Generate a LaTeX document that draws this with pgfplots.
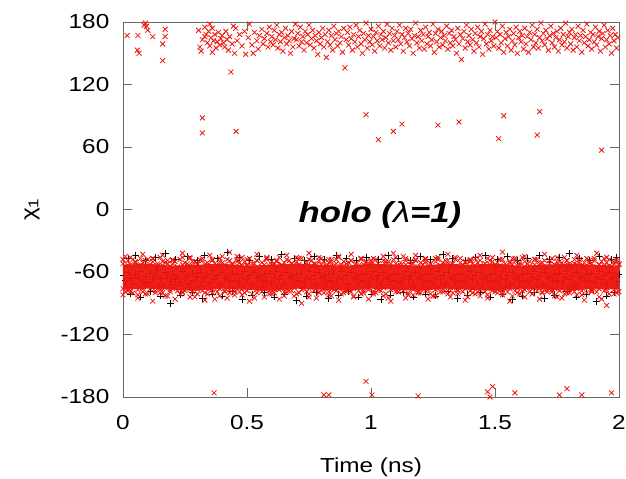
\documentclass[border=0pt]{standalone}
\usepackage{fontspec}
\setmainfont{Liberation Sans}[FakeStretch=1.2]
\usepackage{pgfplots}
\pgfplotsset{compat=1.18}
\usepackage{pgfplotstable}
\definecolor{corered}{RGB}{238,22,14}
\definecolor{axgray}{RGB}{105,105,105}

% red fringe of the chi1 ~ -64 band (ru, rl, rx) and black points inside it (bm)
\pgfplotstableread{
t ru rl rx bm
0.00 -52 -76 -48 -63
0.01 -55 -73 -79 -68
0.02 -49 -78 -54 -60
0.03 -53 -75 -46 -66
0.04 -56 -80 -74 -71
0.05 -50 -72 -51 -62
0.06 -54 -77 -82 -65
0.07 -47 -74 -53 -59
0.08 -51 -79 -76 -69
0.09 -55 -73 -49 -64
0.10 -48 -81 -55 -70
0.11 -53 -76 -72 -61
0.12 -50 -74 -47 -67
0.13 -56 -78 -80 -63
0.14 -52 -72 -54 -58
0.15 -46 -77 -75 -66
0.16 -54 -80 -50 -72
0.17 -51 -75 -83 -60
0.18 -49 -73 -52 -65
0.19 -55 -79 -77 -69
0.20 -52 -76 -48 -62
0.21 -50 -74 -73 -67
0.22 -56 -78 -55 -64
0.23 -48 -72 -81 -70
0.24 -53 -80 -46 -59
0.25 -51 -75 -78 -66
0.26 -55 -73 -52 -63
0.27 -47 -77 -74 -71
0.28 -54 -79 -50 -61
0.29 -50 -74 -84 -68
0.30 -52 -76 -53 -64
0.31 -56 -72 -75 -60
0.32 -49 -78 -47 -69
0.33 -53 -75 -80 -65
0.34 -51 -81 -54 -62
0.35 -55 -73 -76 -70
0.36 -48 -77 -49 -58
0.37 -52 -74 -86 -67
0.38 -54 -79 -55 -63
0.39 -50 -76 -73 -71
0.40 -45 -72 -51 -60
0.41 -53 -78 -79 -66
0.42 -56 -75 -48 -64
0.43 -49 -80 -77 -69
0.44 -52 -73 -53 -61
0.45 -55 -77 -82 -68
0.46 -48 -74 -50 -62
0.47 -51 -79 -75 -70
0.48 -54 -76 -46 -65
0.49 -50 -72 -80 -59
0.50 -53 -78 -54 -67
0.51 -47 -75 -74 -63
0.52 -55 -81 -52 -71
0.53 -52 -73 -85 -60
0.54 -49 -77 -49 -66
0.55 -56 -74 -76 -64
0.56 -51 -79 -55 -69
0.57 -53 -76 -73 -62
0.58 -48 -72 -47 -68
0.59 -54 -78 -81 -61
0.60 -50 -75 -53 -70
0.61 -52 -80 -77 -65
0.62 -55 -73 -50 -59
0.63 -46 -77 -75 -67
0.64 -53 -74 -54 -63
0.65 -51 -79 -83 -71
0.66 -56 -76 -48 -60
0.67 -49 -72 -78 -66
0.68 -52 -78 -52 -64
0.69 -54 -75 -74 -69
0.70 -50 -81 -46 -62
0.71 -53 -73 -80 -68
0.72 -47 -77 -55 -61
0.73 -55 -74 -76 -70
0.74 -51 -79 -51 -65
0.75 -48 -76 -84 -59
0.76 -54 -72 -49 -67
0.77 -52 -78 -73 -63
0.78 -56 -75 -53 -71
0.79 -49 -80 -79 -60
0.80 -53 -73 -47 -66
0.81 -50 -77 -75 -64
0.82 -55 -74 -54 -69
0.83 -51 -79 -82 -62
0.84 -48 -76 -50 -68
0.85 -54 -72 -77 -61
0.86 -52 -78 -48 -70
0.87 -46 -75 -74 -65
0.88 -53 -81 -55 -59
0.89 -50 -73 -80 -67
0.90 -55 -77 -52 -63
0.91 -51 -74 -76 -71
0.92 -49 -79 -49 -60
0.93 -56 -76 -83 -66
0.94 -52 -72 -54 -64
0.95 -54 -78 -73 -69
0.96 -48 -75 -47 -62
0.97 -53 -80 -78 -68
0.98 -50 -73 -51 -61
0.99 -55 -77 -75 -70
1.00 -51 -74 -53 -65
1.01 -47 -79 -81 -59
1.02 -54 -76 -48 -67
1.03 -52 -72 -77 -63
1.04 -56 -78 -55 -71
1.05 -49 -75 -74 -60
1.06 -53 -81 -50 -66
1.07 -50 -73 -85 -64
1.08 -55 -77 -52 -69
1.09 -48 -74 -76 -62
1.10 -52 -79 -46 -68
1.11 -54 -76 -79 -61
1.12 -51 -72 -54 -70
1.13 -45 -78 -73 -65
1.14 -53 -75 -49 -59
1.15 -56 -80 -82 -67
1.16 -50 -73 -53 -63
1.17 -52 -77 -75 -71
1.18 -49 -74 -48 -60
1.19 -55 -79 -80 -66
1.20 -51 -76 -55 -64
1.21 -53 -72 -74 -69
1.22 -47 -78 -50 -62
1.23 -54 -75 -77 -68
1.24 -52 -81 -52 -61
1.25 -56 -73 -83 -70
1.26 -50 -77 -47 -65
1.27 -48 -74 -76 -59
1.28 -55 -79 -54 -67
1.29 -51 -76 -73 -63
1.30 -53 -72 -49 -71
1.31 -49 -78 -81 -60
1.32 -54 -75 -53 -66
1.33 -52 -80 -75 -64
1.34 -46 -73 -48 -69
1.35 -55 -77 -78 -62
1.36 -51 -74 -55 -68
1.37 -53 -79 -74 -61
1.38 -50 -76 -51 -70
1.39 -56 -72 -84 -65
1.40 -48 -78 -50 -59
1.41 -52 -75 -76 -67
1.42 -54 -81 -47 -63
1.43 -51 -73 -79 -71
1.44 -49 -77 -54 -60
1.45 -55 -74 -73 -66
1.46 -52 -79 -52 -64
1.47 -47 -76 -82 -69
1.48 -53 -72 -49 -62
1.49 -50 -78 -75 -68
1.50 -56 -75 -53 -61
1.51 -51 -80 -77 -70
1.52 -54 -73 -48 -65
1.53 -48 -77 -80 -59
1.54 -52 -74 -55 -67
1.55 -55 -79 -74 -63
1.56 -50 -76 -51 -71
1.57 -53 -72 -83 -60
1.58 -49 -78 -47 -66
1.59 -54 -75 -76 -64
1.60 -51 -81 -53 -69
1.61 -46 -73 -78 -62
1.62 -55 -77 -50 -68
1.63 -52 -74 -75 -61
1.64 -50 -79 -54 -70
1.65 -56 -76 -81 -65
1.66 -53 -72 -48 -59
1.67 -48 -78 -74 -67
1.68 -54 -75 -52 -63
1.69 -51 -80 -79 -71
1.70 -49 -73 -55 -60
1.71 -55 -77 -73 -66
1.72 -52 -74 -49 -64
1.73 -47 -79 -77 -69
1.74 -53 -76 -53 -62
1.75 -50 -72 -84 -68
1.76 -56 -78 -50 -61
1.77 -51 -75 -75 -70
1.78 -54 -81 -46 -65
1.79 -49 -73 -80 -59
1.80 -52 -77 -54 -67
1.81 -55 -74 -76 -63
1.82 -48 -79 -52 -71
1.83 -53 -76 -73 -60
1.84 -50 -72 -48 -66
1.85 -54 -78 -82 -64
1.86 -51 -75 -55 -69
1.87 -56 -80 -74 -62
1.88 -49 -73 -51 -68
1.89 -52 -77 -78 -61
1.90 -47 -74 -49 -70
1.91 -55 -79 -75 -65
1.92 -53 -76 -53 -59
1.93 -50 -72 -86 -67
1.94 -54 -78 -47 -63
1.95 -51 -75 -77 -71
1.96 -48 -81 -54 -60
1.97 -55 -73 -73 -66
1.98 -52 -77 -50 -64
1.99 -50 -74 -80 -69
2.00 -53 -79 -52 -62
}\bandtab

% outer red points of the band
\pgfplotstableread{
t y
0.01 -45
0.04 -48
0.08 -43
0.12 -47
0.16 -44
0.20 -49
0.24 -42
0.27 -46
0.31 -48
0.35 -44
0.39 -47
0.43 -41
0.46 -45
0.50 -48
0.54 -43
0.58 -46
0.62 -49
0.66 -44
0.71 -47
0.75 -42
0.79 -46
0.83 -48
0.87 -45
0.92 -43
0.96 -47
1.00 -49
1.05 -45
1.09 -42
1.14 -47
1.18 -44
1.22 -48
1.27 -46
1.31 -43
1.36 -47
1.40 -49
1.44 -44
1.49 -46
1.53 -41
1.57 -47
1.62 -45
1.66 -48
1.70 -43
1.75 -46
1.79 -49
1.83 -44
1.87 -47
1.91 -42
1.95 -46
1.99 -48
0.00 -82
0.03 -79
0.06 -85
0.09 -81
0.12 -88
0.15 -80
0.18 -83
0.21 -86
0.24 -79
0.27 -84
0.30 -81
0.33 -87
0.36 -80
0.39 -83
0.42 -85
0.45 -79
0.48 -82
0.51 -88
0.54 -80
0.57 -84
0.60 -81
0.63 -86
0.66 -79
0.69 -83
0.72 -90
0.75 -81
0.78 -85
0.81 -80
0.84 -83
0.87 -87
0.90 -79
0.93 -84
0.96 -81
0.99 -86
1.02 -80
1.05 -83
1.08 -88
1.11 -79
1.14 -85
1.17 -82
1.20 -80
1.23 -86
1.26 -83
1.29 -79
1.32 -84
1.35 -81
1.38 -87
1.41 -80
1.44 -83
1.47 -85
1.50 -79
1.53 -82
1.56 -88
1.59 -80
1.62 -84
1.65 -81
1.68 -86
1.71 -79
1.74 -83
1.77 -85
1.80 -80
1.83 -82
1.86 -87
1.89 -79
1.92 -84
1.95 -92
1.98 -81
}\redfr

% black points at the edges of the band
\pgfplotstableread{
t y
0.02 -47
0.05 -44
0.09 -49
0.13 -46
0.17 -42
0.21 -48
0.26 -45
0.30 -49
0.33 -44
0.38 -47
0.42 -41
0.47 -46
0.51 -49
0.55 -45
0.60 -48
0.64 -43
0.69 -47
0.73 -49
0.77 -45
0.81 -48
0.86 -44
0.90 -47
0.94 -49
0.98 -46
1.03 -48
1.07 -44
1.11 -47
1.16 -49
1.20 -45
1.24 -48
1.29 -43
1.33 -47
1.38 -49
1.42 -46
1.46 -44
1.51 -48
1.55 -45
1.59 -49
1.63 -47
1.68 -44
1.72 -48
1.76 -46
1.80 -42
1.84 -47
1.88 -49
1.92 -45
1.97 -48
1.99 -46
0.03 -81
0.07 -84
0.11 -79
0.15 -83
0.19 -90
0.23 -82
0.28 -80
0.32 -85
0.36 -81
0.40 -83
0.44 -79
0.48 -86
0.52 -82
0.57 -80
0.61 -84
0.65 -81
0.70 -87
0.74 -83
0.78 -80
0.83 -85
0.87 -82
0.91 -79
0.95 -84
1.00 -81
1.04 -86
1.08 -82
1.13 -80
1.17 -84
1.22 -81
1.26 -83
1.31 -79
1.35 -85
1.39 -82
1.44 -80
1.48 -84
1.53 -81
1.57 -86
1.61 -83
1.66 -80
1.70 -85
1.74 -82
1.79 -79
1.83 -84
1.87 -81
1.91 -88
1.95 -83
1.98 -80
}\blkedge

\pgfplotstableread{
t y
0.017 167
0.060 167
0.058 153
0.065 150
0.085 177
0.095 176
0.100 172
0.120 166
0.160 159
0.170 173
0.170 166
0.160 143
0.090 179
0.305 172
0.310 156
0.315 152
0.320 163
0.330 175
0.335 168
0.340 160
0.345 171
0.350 157
0.355 165
0.360 174
0.365 162
0.370 168
0.375 155
0.380 161
0.385 170
0.390 158
0.395 164
0.360 151
0.330 166
0.350 178
0.400 167
0.405 160
0.410 156
0.415 171
0.420 163
0.425 153
0.430 166
0.440 159
0.450 150
0.455 174
0.460 162
0.470 168
0.480 157
0.490 171
0.495 149
0.435 132
0.445 176
0.505 165
0.510 178
0.520 158
0.530 170
0.540 162
0.545 154
0.550 167
0.560 173
0.565 159
0.570 164
0.580 169
0.585 156
0.590 175
0.595 161
0.525 150
0.600 166
0.605 158
0.610 172
0.615 163
0.620 177
0.625 155
0.630 168
0.635 161
0.640 170
0.645 152
0.650 165
0.655 174
0.660 159
0.665 167
0.670 162
0.680 171
0.685 156
0.690 164
0.695 178
0.675 150
0.700 163
0.705 169
0.710 157
0.715 175
0.720 161
0.725 166
0.730 153
0.735 171
0.740 160
0.745 168
0.750 177
0.755 158
0.760 164
0.765 172
0.770 155
0.775 167
0.780 162
0.785 149
0.790 170
0.795 159
0.800 165
0.805 174
0.810 156
0.815 168
0.820 146
0.825 161
0.830 172
0.835 158
0.840 167
0.845 153
0.850 176
0.855 163
0.860 169
0.865 157
0.870 171
0.875 160
0.880 166
0.885 151
0.890 174
0.895 136
0.900 163
0.905 170
0.910 158
0.915 175
0.920 164
0.925 153
0.930 168
0.935 161
0.940 177
0.945 156
0.950 166
0.955 172
0.960 159
0.965 150
0.970 169
0.975 163
0.980 179
0.985 155
0.990 167
0.995 161
1.000 173
1.005 158
1.010 166
1.015 152
1.020 170
1.025 162
1.030 176
1.035 157
1.040 168
1.045 163
1.050 171
1.055 155
1.060 165
1.065 178
1.070 160
1.075 169
1.080 153
1.085 174
1.090 162
1.095 167
1.100 156
1.105 171
1.110 163
1.115 177
1.120 159
1.125 168
1.130 152
1.135 165
1.140 174
1.145 161
1.150 169
1.155 157
1.160 173
1.165 164
1.170 150
1.175 167
1.180 179
1.185 160
1.190 166
1.195 155
1.200 172
1.205 162
1.210 168
1.215 154
1.220 175
1.225 159
1.230 166
1.235 170
1.240 157
1.245 163
1.250 178
1.255 151
1.260 169
1.265 161
1.270 173
1.275 156
1.280 165
1.285 171
1.290 158
1.295 167
1.300 162
1.305 176
1.310 154
1.315 169
1.320 160
1.325 172
1.330 157
1.335 166
1.340 163
1.345 150
1.350 174
1.355 159
1.360 168
1.365 144
1.370 164
1.375 171
1.380 155
1.385 177
1.390 161
1.395 167
1.400 158
1.405 173
1.410 163
1.415 152
1.420 169
1.425 160
1.430 175
1.435 156
1.440 166
1.445 171
1.450 149
1.455 164
1.460 178
1.465 159
1.470 168
1.475 154
1.480 172
1.485 162
1.490 166
1.495 157
1.500 180
1.505 165
1.510 171
1.515 155
1.520 168
1.525 160
1.530 176
1.535 151
1.540 164
1.545 170
1.550 157
1.555 166
1.560 173
1.565 153
1.570 162
1.575 169
1.580 158
1.585 175
1.590 150
1.595 165
1.600 171
1.605 161
1.610 167
1.615 154
1.620 174
1.625 159
1.630 166
1.635 151
1.640 170
1.645 163
1.650 177
1.655 156
1.660 168
1.665 160
1.670 173
1.675 155
1.680 165
1.685 179
1.690 162
1.695 169
1.700 158
1.705 172
1.710 164
1.715 153
1.720 167
1.725 176
1.730 160
1.735 169
1.740 156
1.745 165
1.750 171
1.755 152
1.760 163
1.765 174
1.770 158
1.775 168
1.780 161
1.785 179
1.790 155
1.795 166
1.800 170
1.805 159
1.810 173
1.815 153
1.820 165
1.825 168
1.830 156
1.835 176
1.840 162
1.845 167
1.850 151
1.855 172
1.860 160
1.865 166
1.870 178
1.875 157
1.880 163
1.885 170
1.890 154
1.895 168
1.900 161
1.905 175
1.910 158
1.915 166
1.920 171
1.925 152
1.930 164
1.935 169
1.940 177
1.945 156
1.950 163
1.955 172
1.960 159
1.965 167
1.970 150
1.975 174
1.980 162
1.985 168
1.990 155
1.995 165
}\topband

\pgfplotstableread{
t y
0.320 88
0.320 73.5
0.456 75
0.980 91
1.030 67
1.090 75
1.125 82
1.270 81
1.355 84
1.515 68
1.535 90
1.670 71.5
1.680 94
1.930 57
0.367 -176
0.810 -178
0.830 -178
0.980 -165
1.004 -178
1.190 -179
1.470 -175
1.490 -170
1.480 -180
1.580 -176
1.760 -178
1.790 -172
1.850 -178
1.970 -176
}\outl

\begin{document}
\begin{tikzpicture}
\begin{axis}[
  name=ax,
  scale only axis,
  width=372pt, height=281.25pt,
  xmin=0, xmax=2, ymin=-180, ymax=180,
  xtick={0,0.5,1,1.5,2},
  ytick={-180,-120,-60,0,60,120,180},
  tick align=inside,
  major tick length=7pt,
  axis line style={axgray, line width=0.7pt},
  tick style={axgray, line width=0.7pt},
  clip=false,
  clip marker paths=true,
  /pgf/number format/assume math mode=true,
  tick label style={font=\fontsize{15.2}{18}\selectfont},
  xticklabel style={yshift=-10.5pt},
  yticklabel style={xshift=-6.75pt},
  xlabel={Time (ns)},
  ylabel={χ\textsubscript{1}},
  every axis x label/.style={at={(axis description cs:0.5,-0.187)},anchor=center,font=\fontsize{15.2}{18}\selectfont},
  every axis y label/.style={at={(axis description cs:-0.1835,0.5)},rotate=90,anchor=center,font=\fontsize{15.2}{18}\selectfont},
  redx/.style={only marks, mark=x, mark size=2.6pt, corered, mark options={line width=0.6pt}},
  blk/.style={only marks, mark=+, mark size=2.6pt, black, mark options={line width=0.55pt}},
]
% black + series (plotted first)
\addplot[blk] table[x=t,y=y]{\blkedge};
\addplot[blk] table[x=t,y=bm]{\bandtab};
% dense red core of the band
\addplot[fill=corered, fill opacity=0.95, draw=none] coordinates {
(0,-53) (0.1,-52) (0.2,-54) (0.3,-53) (0.4,-52) (0.5,-54) (0.6,-53) (0.7,-52) (0.8,-53) (0.9,-54) (1.0,-52)
(1.1,-53) (1.2,-54) (1.3,-52) (1.4,-53) (1.5,-52) (1.6,-54) (1.7,-53) (1.8,-52) (1.9,-53) (2.0,-54)
(2.0,-77) (1.9,-76) (1.8,-78) (1.7,-77) (1.6,-76) (1.5,-78) (1.4,-77) (1.3,-76) (1.2,-78) (1.1,-77) (1.0,-76)
(0.9,-78) (0.8,-77) (0.7,-76) (0.6,-78) (0.5,-77) (0.4,-76) (0.3,-78) (0.2,-77) (0.1,-76) (0,-77)} -- cycle;
% red x series
\addplot[redx] table[x=t,y=ru]{\bandtab};
\addplot[redx] table[x=t,y=rl]{\bandtab};
\addplot[redx] table[x=t,y=rx]{\bandtab};
\addplot[redx] table[x=t,y=y]{\redfr};
\addplot[redx] table[x=t,y=y]{\topband};
\addplot[redx] table[x=t,y=y]{\outl};
\node[font=\fontsize{21.7}{26}\selectfont\bfseries\itshape] at (axis cs:1.036,-5) {holo (\textmd{λ}=1)};
\end{axis}
\pgfresetboundingbox
\path ([shift={(-92.25pt,-60.75pt)}]ax.south west) rectangle ([shift={(5.25pt,16.5pt)}]ax.north east);
\end{tikzpicture}
\end{document}
